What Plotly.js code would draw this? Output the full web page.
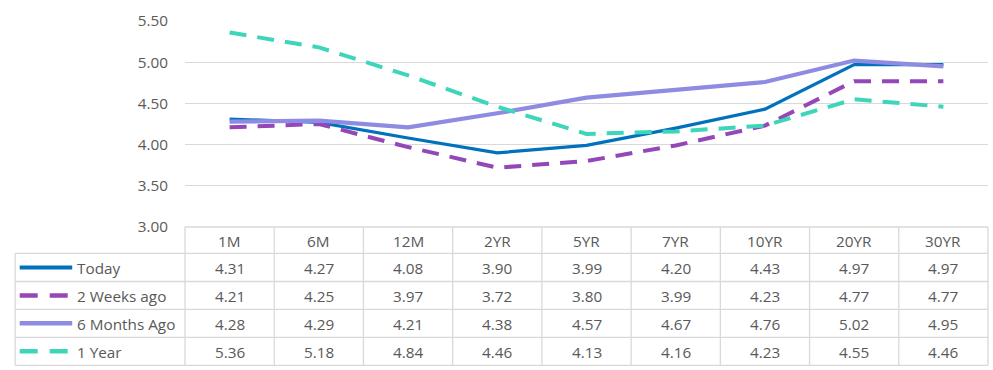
<!DOCTYPE html>
<html>
<head>
<meta charset="utf-8">
<script src="https://cdn.plot.ly/plotly-3.0.1.min.js"></script>
<style>html,body{margin:0;padding:0;background:#fff;}#chart{width:993px;height:370px;}</style>
</head>
<body>
<div id="chart"></div>
<script>
const categories = ['1M','6M','12M','2YR','5YR','7YR','10YR','20YR','30YR'];
const today     = [4.31, 4.27, 4.08, 3.90, 3.99, 4.20, 4.43, 4.97, 4.97];
const twoWeeks  = [4.21, 4.25, 3.97, 3.72, 3.80, 3.99, 4.23, 4.77, 4.77];
const sixMonths = [4.28, 4.29, 4.21, 4.38, 4.57, 4.67, 4.76, 5.02, 4.95];
const oneYear   = [5.36, 5.18, 4.84, 4.46, 4.13, 4.16, 4.23, 4.55, 4.46];
const seriesNames = ['Today', '2 Weeks ago', '6 Months Ago', '1 Year'];
const seriesValues = [today, twoWeeks, sixMonths, oneYear];

const styles = [
  {color: '#0071BC', width: 3.2, dash: 'solid'},
  {color: '#9447B7', width: 4, dash: '17px,11px'},
  {color: '#8E8BE2', width: 4.2, dash: 'solid'},
  {color: '#3ED5BA', width: 4, dash: '17px,11px'}
];

const W = 993, H = 370;
const L = 185.3, R = 988.3, T = 21, B = 227;
const px = v => (v - L) / (R - L);
const py = v => (B - v) / (B - T);
const rowLines = [227, 253.3, 281.5, 309.3, 337.3, 365.3];
const tableLeft = 15.5;
const gridColor = '#D9D9D9';
const textColor = '#595959';
const font = {family: 'Open Sans, sans-serif', size: 15.3, color: textColor};

const traces = seriesValues.map((vals, i) => ({
  type: 'scatter', mode: 'lines', x: categories, y: vals, name: seriesNames[i],
  line: {color: styles[i].color, width: styles[i].width, dash: styles[i].dash},
  hoverinfo: 'skip'
}));

const shapes = [];
const annotations = [];
const colW = (R - L) / categories.length;

rowLines.forEach((y, k) => {
  shapes.push({type: 'line', xref: 'paper', yref: 'paper',
    x0: px(k === 0 ? L : tableLeft), x1: px(R), y0: py(y), y1: py(y),
    line: {color: gridColor, width: 1.3}});
});
for (let c = 0; c <= categories.length; c++) {
  const x = L + c * colW;
  shapes.push({type: 'line', xref: 'paper', yref: 'paper',
    x0: px(x), x1: px(x), y0: py(rowLines[0]), y1: py(rowLines[5]),
    line: {color: gridColor, width: 1.3}});
}
shapes.push({type: 'line', xref: 'paper', yref: 'paper',
  x0: px(tableLeft), x1: px(tableLeft), y0: py(rowLines[1]), y1: py(rowLines[5]),
  line: {color: gridColor, width: 1.3}});

categories.forEach((c, i) => {
  annotations.push({xref: 'paper', yref: 'paper', x: px(L + (i + 0.5) * colW),
    y: py((rowLines[0] + rowLines[1]) / 2 + 0.5), text: c, showarrow: false, font: font,
    xanchor: 'center', yanchor: 'middle'});
});
seriesValues.forEach((vals, r) => {
  const yc = (rowLines[r + 1] + rowLines[r + 2]) / 2;
  shapes.push({type: 'line', xref: 'paper', yref: 'paper',
    x0: px(20), x1: px(r % 2 === 1 ? 68.5 : 72.5), y0: py(yc), y1: py(yc),
    line: {color: styles[r].color, width: r === 0 ? 4 : 4.5, dash: r % 2 === 1 ? '18px,12px' : 'solid'}});
  annotations.push({xref: 'paper', yref: 'paper', x: px(75), y: py(yc + 0.5),
    text: seriesNames[r], showarrow: false, font: font, xanchor: 'left', yanchor: 'middle'});
  vals.forEach((v, i) => {
    annotations.push({xref: 'paper', yref: 'paper', x: px(L + (i + 0.5) * colW),
      y: py(yc + 0.5), text: v.toFixed(2), showarrow: false, font: font,
      xanchor: 'center', yanchor: 'middle'});
  });
});

const layout = {
  width: W, height: H,
  margin: {l: L, r: W - R, t: T, b: H - B, pad: 0},
  paper_bgcolor: '#fff', plot_bgcolor: '#fff',
  showlegend: false,
  font: font,
  xaxis: {type: 'category', range: [-0.5, categories.length - 0.5], showgrid: false,
    showticklabels: false, zeroline: false, showline: false, ticks: ''},
  yaxis: {range: [3, 5.5], dtick: 0.5, tick0: 3, tickformat: '.2f', showgrid: true,
    gridcolor: gridColor, gridwidth: 1.3, zeroline: false, showline: false, ticks: '',
    ticklabelstandoff: 16, tickfont: font},
  shapes: shapes,
  annotations: annotations
};

Plotly.newPlot('chart', traces, layout, {displayModeBar: false, staticPlot: true});
</script>
</body>
</html>
